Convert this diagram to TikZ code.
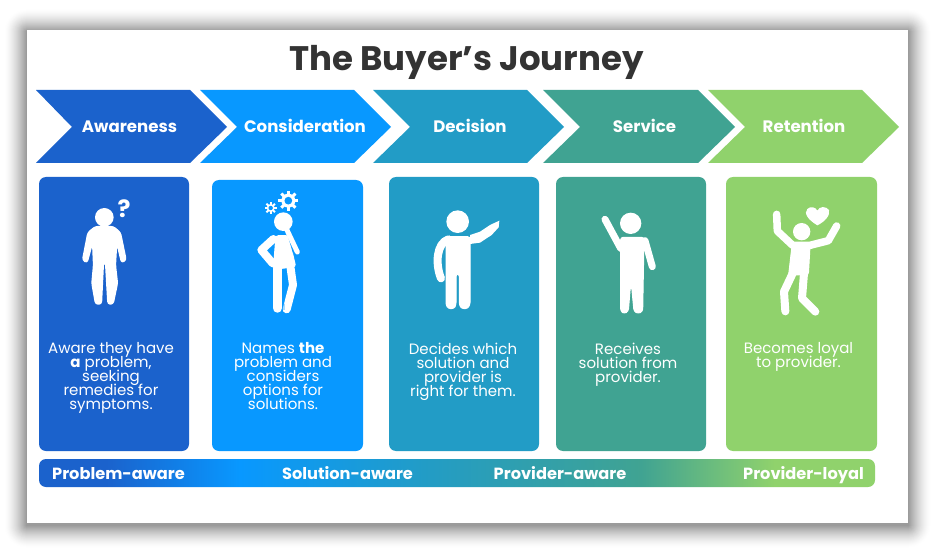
\documentclass[tikz,border=0pt]{standalone}
\usepackage{fontspec}
\setmainfont{Poppins}
\definecolor{cA}{HTML}{1B62CC}
\definecolor{cB}{HTML}{0898FF}
\definecolor{cC}{HTML}{229CC6}
\definecolor{cD}{HTML}{40A392}
\definecolor{cE}{HTML}{90D26C}
\definecolor{ink}{HTML}{333333}
\pgfdeclarehorizontalshading{barshade}{100bp}{color(0bp)=(cA); color(25bp)=(cA); color(29bp)=(cA); color(37bp)=(cB); color(48bp)=(cC); color(61bp)=(cD); color(69bp)=(cE); color(75bp)=(cE); color(100bp)=(cE)}
\lineskiplimit=-30pt
\newcommand{\cardfont}{\fontsize{15}{14}\selectfont\lineskiplimit=-30pt\relax}
\tikzset{
  x=1pt,y=-1pt,
  chevlabel/.style={text=white,font=\fontsize{16.6}{16}\selectfont\bfseries,inner sep=0pt,anchor=base},
  cardtext/.style={text=white,font=\cardfont,align=center,inner sep=0pt,anchor=north},
  barlabel/.style={text=white,font=\fontsize{16.2}{16}\selectfont\bfseries,inner sep=0pt,anchor=base},
  limb/.style={draw=white,line cap=round,line join=round},
  solid white/.style={fill=white,draw=white,line join=round,line width=1pt,rounded corners=2.5pt},
}
\newcommand{\chev}[5]{\fill[#5] (#1,90) -- (#2,90) -- (#3,127) -- (#2,163) -- (#1,163) -- (#4,127) -- cycle;}
\newcommand{\cardbox}[5]{\fill[#5,rounded corners=7pt] (#1,#3) rectangle (#2,#4);}
\newcommand{\gearicon}[6]{% x,y,outer,inner,tooth width,colour
  \fill[white] (#1,#2) circle[radius=#4];
  \foreach \a in {0,45,...,315}{\draw[white,line width=#5] (#1,#2) -- ++(\a:#3);}
  \fill[#6] (#1,#2) circle[radius=#4*0.55];
}
\begin{document}
\begin{tikzpicture}
\useasboundingbox (0,0) rectangle (936,553);
\fill[white] (0,0) rectangle (936,553);
% card shadow, outer ring first, opaque greys
\foreach \r in {22,21,...,1}{
  \pgfmathsetmacro{\pct}{42*(1-\r/23)^1.5}
  \fill[black!\pct!white,rounded corners=\r pt] (27-\r,30-\r+2) rectangle (908+\r,523+\r+2);
}
\fill[white] (27,30) rectangle (908,523);
% title
\node[text=ink,font=\fontsize{34}{34}\selectfont\bfseries,inner sep=0pt,anchor=base] (title) at (466.5,71) {The Buyer’s Journey};
% chevrons
\chev{36}{190}{227}{72}{cA}
\chev{200}{354}{391}{237}{cB}
\chev{373}{527}{564}{410}{cC}
\chev{543}{698}{735}{580}{cD}
\chev{708}{862}{899}{745}{cE}
\node[chevlabel] (l1) at (129.5,133) {Awareness};
\node[chevlabel] (l2) at (305,133) {Consideration};
\node[chevlabel] (l3) at (470,133) {Decision};
\node[chevlabel] (l4) at (644.5,133) {Service};
\node[chevlabel] (l5) at (804,133) {Retention};
% cards
\cardbox{39}{189}{177}{451}{cA}
\cardbox{212}{363}{180}{451}{cB}
\cardbox{389}{539}{177}{451}{cC}
\cardbox{556}{706}{177}{451}{cD}
\cardbox{726}{877}{177}{451}{cE}
% card text
\node[cardtext] (t1) at (111,342.5) {Aware they have\\{\bfseries a} problem,\\seeking\\remedies for\\symptoms.};
\node[cardtext] (t2) at (283,342.5) {Names {\bfseries the}\\problem and\\considers\\options for\\solutions.};
\node[cardtext] (t3) at (463,342.5) {Decides which\\solution and\\provider is\\right for them.};
\node[cardtext] (t4) at (628,342.5) {Receives\\solution from\\provider.};
\node[cardtext] (t5) at (798.5,342.5) {Becomes loyal\\to provider.};
% gradient bar
\shade[shading=barshade,rounded corners=7pt] (39,459) rectangle (875,487);
\node[barlabel] (b1) at (118.5,479) {Problem-aware};
\node[barlabel] (b2) at (347.5,479) {Solution-aware};
\node[barlabel] (b3) at (560,479) {Provider-aware};
\node[barlabel] (b4) at (803.5,479) {Provider-loyal};
% figure 1
\begin{scope}[shift={(30,170)},scale=1/3]
  \fill[white] (223,142) circle[radius=28];
  \path[solid white,line width=1.5pt] (196,170) -- (250,170) -- (271,188) -- (288,270) -- (275,278) -- (260,215) -- (256,285) -- (262,340) -- (249,402) -- (234,402) -- (227,278) -- (220,278) -- (214,402) -- (197,402) -- (186,340) -- (191,285) -- (188,215) -- (171,278) -- (158,270) -- (174,188) -- cycle;
  \node[text=white,font=\fontsize{24}{24}\selectfont\bfseries,inner sep=0pt] (q) at (282,117) {?};
\end{scope}
% figure 2
\begin{scope}[shift={(30,170)},scale=1/3]
  \gearicon{775}{92}{30}{21}{3pt}{cB}
  \gearicon{722}{114}{18}{12}{2pt}{cB}
  \fill[white] (760,155) circle[radius=28];
  \path[solid white] (738,197) -- (775,197) -- (797,290) -- (730,298) -- cycle;
  \draw[limb,line width=9.5pt] (742,295) -- (742,414);
  \draw[limb,line width=8pt] (782,295) -- (789,345) -- (770,418);
  \draw[limb,line width=8pt] (730,207) -- (694,240) -- (728,280);
  \draw[cB,line width=0.7pt] (760,305) -- (762,420);
  \draw[cB,line width=0.7pt] (770,182) -- (790,250);
  \draw[limb,line width=5pt] (802,246) -- (770,178);
\end{scope}
% figure 3
\begin{scope}[shift={(380,170)},scale=1/3]
  \fill[white] (233,155) circle[radius=34];
  \path[solid white] (198,200) -- (270,200) -- (270,405) -- (262,416) -- (245,416) -- (238,405) -- (238,312) -- (228,312) -- (228,405) -- (222,416) -- (205,416) -- (198,405) -- cycle;
  \draw[limb,line width=8pt] (205,208) .. controls (170,220) and (165,280) .. (183,325);
  \fill[white] (270,195) -- (300,185) -- (330,165) -- (358,152) -- (356,172) -- (335,195) -- (300,218) -- (270,222) -- cycle;
\end{scope}
% figure 4
\begin{scope}[shift={(380,170)},scale=1/3]
  \fill[white] (752,160) circle[radius=32];
  \path[solid white] (722,202) -- (792,202) -- (788,424) -- (775,431) -- (762,424) -- (755,350) -- (751,350) -- (745,424) -- (733,431) -- (722,424) -- cycle;
  \draw[limb,line width=7pt] (675,148) -- (722,235);
  \draw[limb,line width=7pt] (795,212) -- (817,290);
\end{scope}
% figure 5
\begin{scope}[shift={(380,170)},scale=1/3]
  \fill[white] (1265,185) circle[radius=26];
  \fill[white] (1312,166) .. controls (1285,150) and (1270,130) .. (1282,117) .. controls (1292,107) and (1308,112) .. (1312,122) .. controls (1318,108) and (1338,108) .. (1347,120) .. controls (1352,135) and (1335,155) .. (1312,166) -- cycle;
  \draw[limb,line width=7.5pt] (1190,133) -- (1192,183) -- (1238,226) -- (1290,226) -- (1345,212) -- (1370,168);
  \path[solid white] (1236,228) -- (1290,228) -- (1285,315) -- (1226,315) -- cycle;
  \draw[limb,line width=8pt] (1238,310) -- (1212,365) -- (1216,424);
  \draw[limb,line width=8pt] (1272,310) -- (1266,385) -- (1306,425);
\end{scope}
\end{tikzpicture}
\end{document}
